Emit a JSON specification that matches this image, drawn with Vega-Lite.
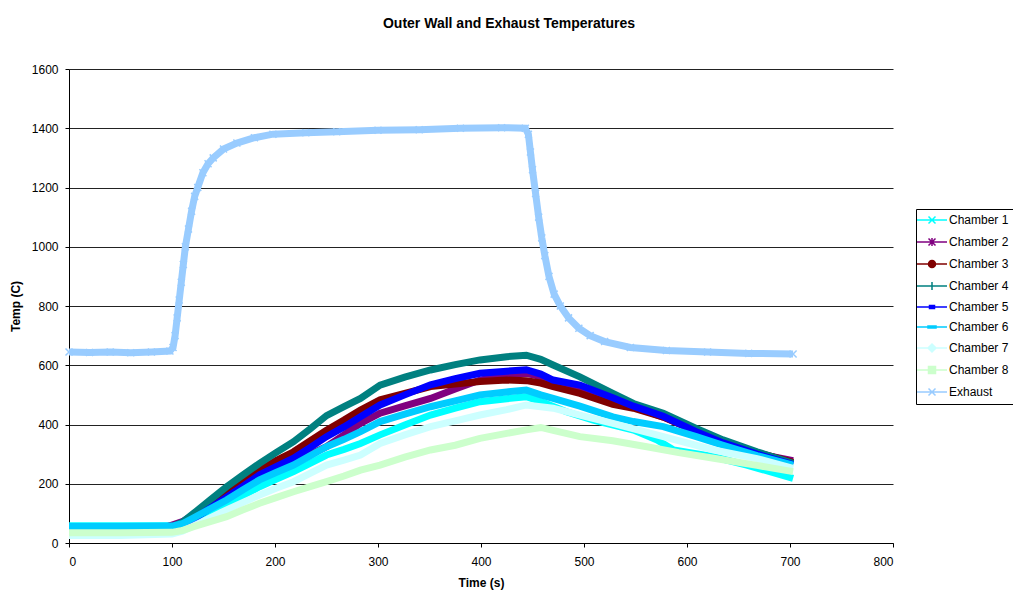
{
  "$schema": "https://vega.github.io/schema/vega-lite/v6.json",
  "width": 824,
  "height": 474,
  "autosize": {"type": "none"},
  "padding": {"left": 69, "top": 69, "right": 120, "bottom": 50},
  "background": "white",
  "title": {"text": "Outer Wall and Exhaust Temperatures", "font": "Liberation Sans", "fontSize": 14, "fontWeight": "bold", "color": "black", "anchor": "middle", "dx": 28, "offset": 21, "baseline": "alphabetic"},
  "config": {
    "view": {"stroke": null},
    "font": "Liberation Sans",
    "axis": {"labelFont": "Liberation Sans", "labelFontSize": 12, "labelColor": "black", "titleFont": "Liberation Sans", "titleFontSize": 12, "titleFontWeight": "bold", "titleColor": "black", "domainColor": "black", "tickColor": "black", "tickSize": 4},
    "legend": {"title": null, "orient": "none", "legendX": 847, "legendY": 140, "strokeColor": "black", "fillColor": "white", "padding": 5, "symbolSize": 100, "symbolOffset": 5, "labelOffset": 11, "rowPadding": 8, "labelFont": "Liberation Sans", "labelFontSize": 12, "labelColor": "black", "symbolOpacity": 1, "symbolStrokeWidth": 1.5}
  },
  "datasets": {
    "temps": [
      {"series": "Chamber 1", "time": 0, "temp": 58}, {"series": "Chamber 1", "time": 50, "temp": 58}, {"series": "Chamber 1", "time": 100, "temp": 58}, {"series": "Chamber 1", "time": 110, "temp": 62}, {"series": "Chamber 1", "time": 121, "temp": 75}, {"series": "Chamber 1", "time": 137, "temp": 105}, {"series": "Chamber 1", "time": 153, "temp": 130}, {"series": "Chamber 1", "time": 169, "temp": 160}, {"series": "Chamber 1", "time": 185, "temp": 190}, {"series": "Chamber 1", "time": 201, "temp": 215}, {"series": "Chamber 1", "time": 218, "temp": 241}, {"series": "Chamber 1", "time": 234, "temp": 269}, {"series": "Chamber 1", "time": 250, "temp": 297}, {"series": "Chamber 1", "time": 267, "temp": 316}, {"series": "Chamber 1", "time": 283, "temp": 336}, {"series": "Chamber 1", "time": 302, "temp": 365}, {"series": "Chamber 1", "time": 326, "temp": 398}, {"series": "Chamber 1", "time": 351, "temp": 432}, {"series": "Chamber 1", "time": 375, "temp": 455}, {"series": "Chamber 1", "time": 399, "temp": 477}, {"series": "Chamber 1", "time": 425, "temp": 487}, {"series": "Chamber 1", "time": 444, "temp": 494}, {"series": "Chamber 1", "time": 460, "temp": 475}, {"series": "Chamber 1", "time": 483, "temp": 443}, {"series": "Chamber 1", "time": 509, "temp": 415}, {"series": "Chamber 1", "time": 548, "temp": 381}, {"series": "Chamber 1", "time": 571, "temp": 348}, {"series": "Chamber 1", "time": 587, "temp": 314}, {"series": "Chamber 1", "time": 626, "temp": 291}, {"series": "Chamber 1", "time": 658, "temp": 263}, {"series": "Chamber 1", "time": 703, "temp": 218},
      {"series": "Chamber 2", "time": 0, "temp": 52}, {"series": "Chamber 2", "time": 50, "temp": 52}, {"series": "Chamber 2", "time": 95, "temp": 55}, {"series": "Chamber 2", "time": 110, "temp": 72}, {"series": "Chamber 2", "time": 121, "temp": 95}, {"series": "Chamber 2", "time": 137, "temp": 130}, {"series": "Chamber 2", "time": 153, "temp": 160}, {"series": "Chamber 2", "time": 169, "temp": 192}, {"series": "Chamber 2", "time": 185, "temp": 224}, {"series": "Chamber 2", "time": 201, "temp": 249}, {"series": "Chamber 2", "time": 218, "temp": 274}, {"series": "Chamber 2", "time": 234, "temp": 300}, {"series": "Chamber 2", "time": 250, "temp": 325}, {"series": "Chamber 2", "time": 267, "temp": 365}, {"series": "Chamber 2", "time": 283, "temp": 404}, {"series": "Chamber 2", "time": 302, "temp": 438}, {"series": "Chamber 2", "time": 326, "temp": 463}, {"series": "Chamber 2", "time": 351, "temp": 488}, {"series": "Chamber 2", "time": 375, "temp": 520}, {"series": "Chamber 2", "time": 399, "temp": 550}, {"series": "Chamber 2", "time": 425, "temp": 567}, {"series": "Chamber 2", "time": 444, "temp": 573}, {"series": "Chamber 2", "time": 458, "temp": 562}, {"series": "Chamber 2", "time": 470, "temp": 545}, {"series": "Chamber 2", "time": 496, "temp": 525}, {"series": "Chamber 2", "time": 528, "temp": 488}, {"series": "Chamber 2", "time": 548, "temp": 460}, {"series": "Chamber 2", "time": 577, "temp": 425}, {"series": "Chamber 2", "time": 609, "temp": 377}, {"series": "Chamber 2", "time": 635, "temp": 340}, {"series": "Chamber 2", "time": 668, "temp": 302}, {"series": "Chamber 2", "time": 703, "temp": 278},
      {"series": "Chamber 3", "time": 0, "temp": 50}, {"series": "Chamber 3", "time": 50, "temp": 50}, {"series": "Chamber 3", "time": 100, "temp": 53}, {"series": "Chamber 3", "time": 110, "temp": 62}, {"series": "Chamber 3", "time": 121, "temp": 85}, {"series": "Chamber 3", "time": 137, "temp": 125}, {"series": "Chamber 3", "time": 153, "temp": 165}, {"series": "Chamber 3", "time": 169, "temp": 205}, {"series": "Chamber 3", "time": 185, "temp": 246}, {"series": "Chamber 3", "time": 201, "temp": 278}, {"series": "Chamber 3", "time": 218, "temp": 308}, {"series": "Chamber 3", "time": 234, "temp": 345}, {"series": "Chamber 3", "time": 250, "temp": 381}, {"series": "Chamber 3", "time": 267, "temp": 415}, {"series": "Chamber 3", "time": 283, "temp": 449}, {"series": "Chamber 3", "time": 302, "temp": 483}, {"series": "Chamber 3", "time": 326, "temp": 505}, {"series": "Chamber 3", "time": 351, "temp": 528}, {"series": "Chamber 3", "time": 375, "temp": 537}, {"series": "Chamber 3", "time": 399, "temp": 545}, {"series": "Chamber 3", "time": 425, "temp": 550}, {"series": "Chamber 3", "time": 444, "temp": 548}, {"series": "Chamber 3", "time": 458, "temp": 540}, {"series": "Chamber 3", "time": 470, "temp": 528}, {"series": "Chamber 3", "time": 496, "temp": 505}, {"series": "Chamber 3", "time": 528, "temp": 468}, {"series": "Chamber 3", "time": 548, "temp": 455}, {"series": "Chamber 3", "time": 577, "temp": 425}, {"series": "Chamber 3", "time": 609, "temp": 378}, {"series": "Chamber 3", "time": 635, "temp": 340}, {"series": "Chamber 3", "time": 668, "temp": 305}, {"series": "Chamber 3", "time": 703, "temp": 272},
      {"series": "Chamber 4", "time": 0, "temp": 50}, {"series": "Chamber 4", "time": 50, "temp": 50}, {"series": "Chamber 4", "time": 100, "temp": 55}, {"series": "Chamber 4", "time": 110, "temp": 70}, {"series": "Chamber 4", "time": 121, "temp": 100}, {"series": "Chamber 4", "time": 137, "temp": 145}, {"series": "Chamber 4", "time": 153, "temp": 190}, {"series": "Chamber 4", "time": 169, "temp": 230}, {"series": "Chamber 4", "time": 185, "temp": 269}, {"series": "Chamber 4", "time": 201, "temp": 305}, {"series": "Chamber 4", "time": 218, "temp": 342}, {"series": "Chamber 4", "time": 234, "temp": 385}, {"series": "Chamber 4", "time": 250, "temp": 430}, {"series": "Chamber 4", "time": 267, "temp": 460}, {"series": "Chamber 4", "time": 283, "temp": 488}, {"series": "Chamber 4", "time": 302, "temp": 533}, {"series": "Chamber 4", "time": 326, "temp": 560}, {"series": "Chamber 4", "time": 351, "temp": 584}, {"series": "Chamber 4", "time": 375, "temp": 602}, {"series": "Chamber 4", "time": 399, "temp": 618}, {"series": "Chamber 4", "time": 425, "temp": 629}, {"series": "Chamber 4", "time": 444, "temp": 634}, {"series": "Chamber 4", "time": 458, "temp": 620}, {"series": "Chamber 4", "time": 470, "temp": 601}, {"series": "Chamber 4", "time": 496, "temp": 561}, {"series": "Chamber 4", "time": 528, "temp": 505}, {"series": "Chamber 4", "time": 548, "temp": 471}, {"series": "Chamber 4", "time": 577, "temp": 438}, {"series": "Chamber 4", "time": 609, "temp": 387}, {"series": "Chamber 4", "time": 635, "temp": 348}, {"series": "Chamber 4", "time": 668, "temp": 308}, {"series": "Chamber 4", "time": 703, "temp": 269},
      {"series": "Chamber 5", "time": 0, "temp": 50}, {"series": "Chamber 5", "time": 50, "temp": 50}, {"series": "Chamber 5", "time": 100, "temp": 53}, {"series": "Chamber 5", "time": 110, "temp": 60}, {"series": "Chamber 5", "time": 121, "temp": 80}, {"series": "Chamber 5", "time": 137, "temp": 118}, {"series": "Chamber 5", "time": 153, "temp": 155}, {"series": "Chamber 5", "time": 169, "temp": 192}, {"series": "Chamber 5", "time": 185, "temp": 230}, {"series": "Chamber 5", "time": 201, "temp": 258}, {"series": "Chamber 5", "time": 218, "temp": 286}, {"series": "Chamber 5", "time": 234, "temp": 322}, {"series": "Chamber 5", "time": 250, "temp": 359}, {"series": "Chamber 5", "time": 267, "temp": 392}, {"series": "Chamber 5", "time": 283, "temp": 426}, {"series": "Chamber 5", "time": 302, "temp": 466}, {"series": "Chamber 5", "time": 326, "temp": 500}, {"series": "Chamber 5", "time": 351, "temp": 534}, {"series": "Chamber 5", "time": 375, "temp": 555}, {"series": "Chamber 5", "time": 399, "temp": 573}, {"series": "Chamber 5", "time": 425, "temp": 580}, {"series": "Chamber 5", "time": 444, "temp": 585}, {"series": "Chamber 5", "time": 458, "temp": 570}, {"series": "Chamber 5", "time": 470, "temp": 550}, {"series": "Chamber 5", "time": 496, "temp": 533}, {"series": "Chamber 5", "time": 528, "temp": 490}, {"series": "Chamber 5", "time": 548, "temp": 462}, {"series": "Chamber 5", "time": 577, "temp": 428}, {"series": "Chamber 5", "time": 609, "temp": 376}, {"series": "Chamber 5", "time": 635, "temp": 338}, {"series": "Chamber 5", "time": 668, "temp": 300}, {"series": "Chamber 5", "time": 703, "temp": 265},
      {"series": "Chamber 6", "time": 0, "temp": 56}, {"series": "Chamber 6", "time": 50, "temp": 56}, {"series": "Chamber 6", "time": 100, "temp": 57}, {"series": "Chamber 6", "time": 110, "temp": 65}, {"series": "Chamber 6", "time": 121, "temp": 85}, {"series": "Chamber 6", "time": 137, "temp": 115}, {"series": "Chamber 6", "time": 153, "temp": 145}, {"series": "Chamber 6", "time": 169, "temp": 180}, {"series": "Chamber 6", "time": 185, "temp": 213}, {"series": "Chamber 6", "time": 201, "temp": 238}, {"series": "Chamber 6", "time": 218, "temp": 263}, {"series": "Chamber 6", "time": 234, "temp": 294}, {"series": "Chamber 6", "time": 250, "temp": 325}, {"series": "Chamber 6", "time": 267, "temp": 350}, {"series": "Chamber 6", "time": 283, "temp": 376}, {"series": "Chamber 6", "time": 302, "temp": 410}, {"series": "Chamber 6", "time": 326, "temp": 435}, {"series": "Chamber 6", "time": 351, "temp": 460}, {"series": "Chamber 6", "time": 375, "temp": 480}, {"series": "Chamber 6", "time": 399, "temp": 500}, {"series": "Chamber 6", "time": 425, "temp": 510}, {"series": "Chamber 6", "time": 444, "temp": 516}, {"series": "Chamber 6", "time": 458, "temp": 500}, {"series": "Chamber 6", "time": 470, "temp": 488}, {"series": "Chamber 6", "time": 496, "temp": 462}, {"series": "Chamber 6", "time": 528, "temp": 426}, {"series": "Chamber 6", "time": 548, "temp": 410}, {"series": "Chamber 6", "time": 577, "temp": 393}, {"series": "Chamber 6", "time": 609, "temp": 359}, {"series": "Chamber 6", "time": 635, "temp": 330}, {"series": "Chamber 6", "time": 668, "temp": 295}, {"series": "Chamber 6", "time": 703, "temp": 263},
      {"series": "Chamber 7", "time": 0, "temp": 25}, {"series": "Chamber 7", "time": 50, "temp": 25}, {"series": "Chamber 7", "time": 100, "temp": 30}, {"series": "Chamber 7", "time": 110, "temp": 40}, {"series": "Chamber 7", "time": 121, "temp": 58}, {"series": "Chamber 7", "time": 137, "temp": 85}, {"series": "Chamber 7", "time": 153, "temp": 112}, {"series": "Chamber 7", "time": 169, "temp": 137}, {"series": "Chamber 7", "time": 185, "temp": 162}, {"series": "Chamber 7", "time": 201, "temp": 185}, {"series": "Chamber 7", "time": 218, "temp": 207}, {"series": "Chamber 7", "time": 234, "temp": 235}, {"series": "Chamber 7", "time": 250, "temp": 263}, {"series": "Chamber 7", "time": 267, "temp": 280}, {"series": "Chamber 7", "time": 283, "temp": 297}, {"series": "Chamber 7", "time": 302, "temp": 336}, {"series": "Chamber 7", "time": 326, "temp": 365}, {"series": "Chamber 7", "time": 351, "temp": 393}, {"series": "Chamber 7", "time": 375, "temp": 412}, {"series": "Chamber 7", "time": 399, "temp": 432}, {"series": "Chamber 7", "time": 425, "temp": 450}, {"series": "Chamber 7", "time": 444, "temp": 466}, {"series": "Chamber 7", "time": 470, "temp": 455}, {"series": "Chamber 7", "time": 496, "temp": 432}, {"series": "Chamber 7", "time": 528, "temp": 404}, {"series": "Chamber 7", "time": 577, "temp": 359}, {"series": "Chamber 7", "time": 626, "temp": 314}, {"series": "Chamber 7", "time": 668, "temp": 285}, {"series": "Chamber 7", "time": 703, "temp": 252},
      {"series": "Chamber 8", "time": 0, "temp": 35}, {"series": "Chamber 8", "time": 50, "temp": 35}, {"series": "Chamber 8", "time": 100, "temp": 36}, {"series": "Chamber 8", "time": 110, "temp": 42}, {"series": "Chamber 8", "time": 121, "temp": 55}, {"series": "Chamber 8", "time": 137, "temp": 72}, {"series": "Chamber 8", "time": 153, "temp": 89}, {"series": "Chamber 8", "time": 169, "temp": 112}, {"series": "Chamber 8", "time": 185, "temp": 134}, {"series": "Chamber 8", "time": 201, "temp": 153}, {"series": "Chamber 8", "time": 218, "temp": 173}, {"series": "Chamber 8", "time": 234, "temp": 190}, {"series": "Chamber 8", "time": 250, "temp": 207}, {"series": "Chamber 8", "time": 267, "temp": 226}, {"series": "Chamber 8", "time": 283, "temp": 246}, {"series": "Chamber 8", "time": 302, "temp": 263}, {"series": "Chamber 8", "time": 326, "temp": 290}, {"series": "Chamber 8", "time": 351, "temp": 314}, {"series": "Chamber 8", "time": 375, "temp": 330}, {"series": "Chamber 8", "time": 399, "temp": 353}, {"series": "Chamber 8", "time": 425, "temp": 370}, {"series": "Chamber 8", "time": 444, "temp": 382}, {"series": "Chamber 8", "time": 458, "temp": 390}, {"series": "Chamber 8", "time": 470, "temp": 380}, {"series": "Chamber 8", "time": 496, "temp": 359}, {"series": "Chamber 8", "time": 528, "temp": 345}, {"series": "Chamber 8", "time": 561, "temp": 325}, {"series": "Chamber 8", "time": 592, "temp": 305}, {"series": "Chamber 8", "time": 626, "temp": 286}, {"series": "Chamber 8", "time": 668, "temp": 262}, {"series": "Chamber 8", "time": 703, "temp": 241},
      {"series": "Exhaust", "time": 0, "temp": 645}, {"series": "Exhaust", "time": 20, "temp": 643}, {"series": "Exhaust", "time": 40, "temp": 645}, {"series": "Exhaust", "time": 60, "temp": 642}, {"series": "Exhaust", "time": 80, "temp": 645}, {"series": "Exhaust", "time": 98, "temp": 648}, {"series": "Exhaust", "time": 101, "temp": 660}, {"series": "Exhaust", "time": 103, "temp": 700}, {"series": "Exhaust", "time": 105, "temp": 760}, {"series": "Exhaust", "time": 107, "temp": 820}, {"series": "Exhaust", "time": 109, "temp": 880}, {"series": "Exhaust", "time": 111, "temp": 940}, {"series": "Exhaust", "time": 113, "temp": 1000}, {"series": "Exhaust", "time": 116, "temp": 1060}, {"series": "Exhaust", "time": 119, "temp": 1120}, {"series": "Exhaust", "time": 122, "temp": 1170}, {"series": "Exhaust", "time": 125, "temp": 1200}, {"series": "Exhaust", "time": 130, "temp": 1250}, {"series": "Exhaust", "time": 135, "temp": 1280}, {"series": "Exhaust", "time": 140, "temp": 1300}, {"series": "Exhaust", "time": 150, "temp": 1330}, {"series": "Exhaust", "time": 163, "temp": 1350}, {"series": "Exhaust", "time": 180, "temp": 1368}, {"series": "Exhaust", "time": 198, "temp": 1380}, {"series": "Exhaust", "time": 230, "temp": 1385}, {"series": "Exhaust", "time": 260, "temp": 1388}, {"series": "Exhaust", "time": 300, "temp": 1393}, {"series": "Exhaust", "time": 340, "temp": 1395}, {"series": "Exhaust", "time": 380, "temp": 1400}, {"series": "Exhaust", "time": 420, "temp": 1402}, {"series": "Exhaust", "time": 443, "temp": 1400}, {"series": "Exhaust", "time": 446, "temp": 1380}, {"series": "Exhaust", "time": 448, "temp": 1320}, {"series": "Exhaust", "time": 450, "temp": 1260}, {"series": "Exhaust", "time": 453, "temp": 1180}, {"series": "Exhaust", "time": 456, "temp": 1100}, {"series": "Exhaust", "time": 459, "temp": 1030}, {"series": "Exhaust", "time": 462, "temp": 970}, {"series": "Exhaust", "time": 466, "temp": 900}, {"series": "Exhaust", "time": 471, "temp": 840}, {"series": "Exhaust", "time": 477, "temp": 800}, {"series": "Exhaust", "time": 485, "temp": 760}, {"series": "Exhaust", "time": 495, "temp": 725}, {"series": "Exhaust", "time": 506, "temp": 700}, {"series": "Exhaust", "time": 520, "temp": 680}, {"series": "Exhaust", "time": 545, "temp": 660}, {"series": "Exhaust", "time": 580, "temp": 650}, {"series": "Exhaust", "time": 620, "temp": 645}, {"series": "Exhaust", "time": 660, "temp": 640}, {"series": "Exhaust", "time": 703, "temp": 638}
    ]
  },
  "data": {"name": "temps"},
  "encoding": {
    "x": {"field": "time", "type": "quantitative", "scale": {"domain": [0, 800], "nice": false}, "axis": {"title": "Time (s)", "values": [0, 100, 200, 300, 400, 500, 600, 700, 800], "format": "d", "grid": false, "labelPadding": 9, "titlePadding": 10}},
    "y": {"field": "temp", "type": "quantitative", "scale": {"domain": [0, 1600], "nice": false}, "axis": {"title": "Temp (C)", "values": [0, 200, 400, 600, 800, 1000, 1200, 1400, 1600], "format": "d", "grid": true, "gridColor": "#222222", "gridOpacity": 1, "gridWidth": 1, "labelPadding": 7, "titlePadding": 9}}
  },
  "layer": [
    {
      "mark": {"type": "point", "filled": true, "size": 0, "strokeWidth": 1.5},
      "encoding": {
        "color": {"field": "series", "type": "nominal", "scale": {"domain": ["Chamber 1", "Chamber 2", "Chamber 3", "Chamber 4", "Chamber 5", "Chamber 6", "Chamber 7", "Chamber 8", "Exhaust"], "range": ["#00FFFF", "#800080", "#800000", "#008080", "#0000FF", "#00CCFF", "#CCFFFF", "#CCFFCC", "#99CCFF"]}, "legend": {"symbolSize": 100, "symbolStrokeColor": {"expr": "scale('color', datum.value)"}, "symbolStrokeWidth": 1.5}},
        "shape": {"field": "series", "type": "nominal", "scale": {"domain": ["Chamber 1", "Chamber 2", "Chamber 3", "Chamber 4", "Chamber 5", "Chamber 6", "Chamber 7", "Chamber 8", "Exhaust"], "range": ["M-3,0H3M-0.7,-0.7L0.7,0.7M0.7,-0.7L-0.7,0.7", "M-3,0H3M-0.7,-0.7L0.7,0.7M0.7,-0.7L-0.7,0.7M0,-0.8V0.8", "M-3,0H3M0.7,0A0.7,0.7 0 1,1 -0.7,0A0.7,0.7 0 1,1 0.7,0Z", "M-3,0H3M0,-0.8V0.8", "M-3,0H3M-0.5,-0.3H0.5V0.3H-0.5Z", "M-3,0H3M-0.8,-0.2H0.8V0.2H-0.8Z", "M-3,0H3M0,-0.8L0.8,0L0,0.8L-0.8,0Z", "M-3,0H3M-0.7,-0.7H0.7V0.7H-0.7Z", "M-3,0H3M-0.7,-0.7L0.7,0.7M0.7,-0.7L-0.7,0.7"]}, "legend": {"symbolSize": 100, "symbolStrokeColor": {"expr": "scale('color', datum.value)"}, "symbolStrokeWidth": 1.5}}
      }
    },
    {
      "transform": [{"filter": "datum.series !== 'Exhaust'"}],
      "mark": {"type": "line", "strokeWidth": 7},
      "encoding": {
        "color": {"field": "series", "type": "nominal", "legend": null}
      }
    },
    {
      "transform": [{"filter": "datum.series === 'Exhaust'"}],
      "mark": {"type": "line", "strokeWidth": 7, "color": "#99CCFF"},
      "encoding": {}
    },
    {
      "transform": [{"filter": "datum.series === 'Exhaust'"}],
      "mark": {"type": "point", "shape": "M-1,-1L1,1M1,-1L-1,1", "size": 49, "strokeWidth": 1.5, "filled": false, "color": "#99CCFF", "opacity": 1},
      "encoding": {}
    }
  ]
}
